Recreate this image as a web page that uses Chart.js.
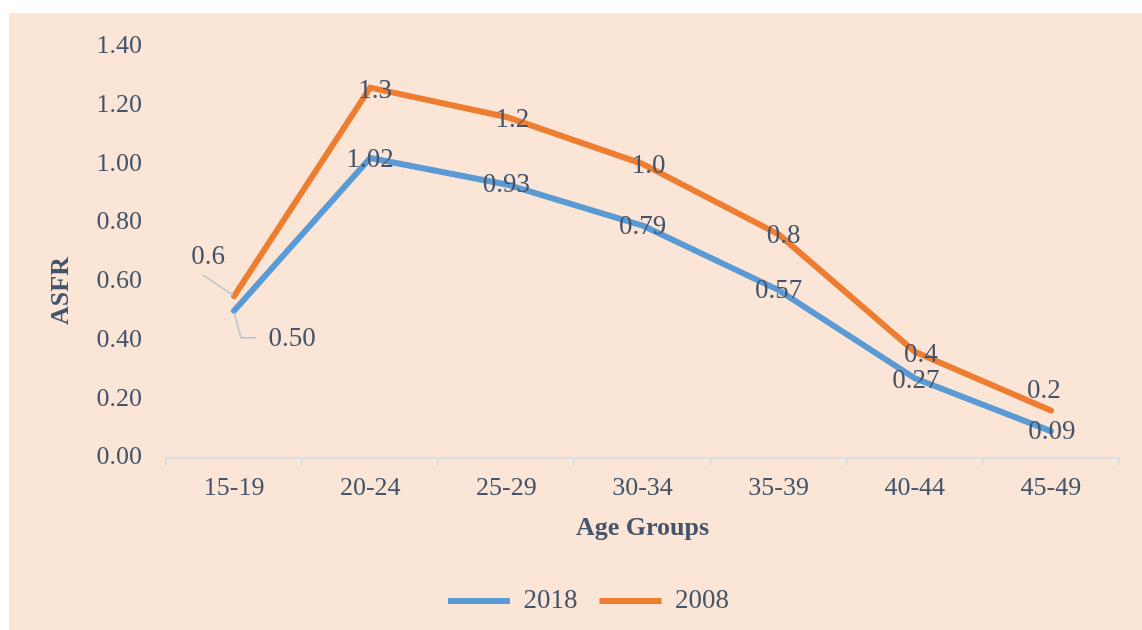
<!DOCTYPE html>
<html>
<head>
<meta charset="utf-8">
<script src="https://cdn.jsdelivr.net/npm/chart.js@4.4.1/dist/chart.umd.min.js"></script>
<style>
  html, body { margin: 0; padding: 0; background: #ffffff; }
  #panel { position: absolute; left: 9px; top: 13px; width: 1133px; height: 617px; background: #FBE5D6; }
  canvas { display: block; }
</style>
</head>
<body>
<div id="panel"><canvas id="grafico" width="1133" height="617"></canvas></div>
<script>
// Datos
const grupos = ['15-19', '20-24', '25-29', '30-34', '35-39', '40-44', '45-49'];
const valores2018 = [0.50, 1.02, 0.93, 0.79, 0.57, 0.27, 0.09];
const valores2008 = [0.55, 1.26, 1.16, 1.00, 0.76, 0.36, 0.16];
const marcasY = [0, 0.2, 0.4, 0.6, 0.8, 1.0, 1.2, 1.4];

const colorTexto = '#44546A';
const colorEje = '#D9DFE5';
const fuente = 'Liberation Serif';

// Desplazamiento de cada etiqueta respecto a su punto (px)
const desplaz2018 = [[58, 28], [0, 2], [0, 0], [0, 1], [0, 1], [1, 3], [1, 1]];
const desplaz2008 = [[-26, -39], [5, 3], [6, 3], [6, 2], [5, 2], [6, 3], [-7, -20]];

// Etiquetas de datos, líneas guía y título del eje Y
const etiquetasPlugin = {
  id: 'etiquetas',
  afterDatasetsDraw(chart) {
    const ctx = chart.ctx;
    const m2018 = chart.getDatasetMeta(0).data;
    const m2008 = chart.getDatasetMeta(1).data;

    // líneas guía del primer grupo
    ctx.save();
    ctx.strokeStyle = '#B7C4D1';
    ctx.lineWidth = 1.5;
    ctx.beginPath();
    ctx.moveTo(m2008[0].x - 1, m2008[0].y - 1);
    ctx.lineTo(m2008[0].x - 31, m2008[0].y - 21);
    ctx.moveTo(m2018[0].x, m2018[0].y + 2);
    ctx.lineTo(m2018[0].x + 7, m2018[0].y + 27);
    ctx.lineTo(m2018[0].x + 22, m2018[0].y + 27);
    ctx.stroke();
    ctx.restore();

    ctx.save();
    ctx.font = '27px "' + fuente + '"';
    ctx.fillStyle = colorTexto;
    ctx.textAlign = 'center';
    ctx.textBaseline = 'middle';
    m2018.forEach((p, i) => {
      ctx.fillText(valores2018[i].toFixed(2), p.x + desplaz2018[i][0], p.y + desplaz2018[i][1]);
    });
    m2008.forEach((p, i) => {
      ctx.fillText(valores2008[i].toFixed(1), p.x + desplaz2008[i][0], p.y + desplaz2008[i][1]);
    });
    ctx.restore();

    // título eje Y
    ctx.save();
    ctx.translate(52, 278);
    ctx.rotate(-Math.PI / 2);
    ctx.font = 'bold 26px "' + fuente + '"';
    ctx.fillStyle = colorTexto;
    ctx.textAlign = 'center';
    ctx.textBaseline = 'middle';
    ctx.fillText('ASFR', 0, 0);
    ctx.restore();
  }
};

const ctxGrafico = document.getElementById('grafico').getContext('2d');
new Chart(ctxGrafico, {
  type: 'line',
  data: {
    labels: grupos,
    datasets: [
      {
        label: '2018',
        data: valores2018,
        borderColor: '#5B9BD5',
        backgroundColor: '#5B9BD5',
        borderWidth: 6,
        borderCapStyle: 'round',
        borderJoinStyle: 'round',
        pointRadius: 0,
        tension: 0
      },
      {
        label: '2008',
        data: valores2008,
        borderColor: '#ED7D31',
        backgroundColor: '#ED7D31',
        borderWidth: 6,
        borderCapStyle: 'round',
        borderJoinStyle: 'round',
        pointRadius: 0,
        tension: 0
      }
    ]
  },
  options: {
    responsive: false,
    animation: false,
    layout: {
      padding: { top: 33.5, left: 49, right: 23, bottom: 5.5 }
    },
    plugins: {
      tooltip: { enabled: false },
      legend: {
        position: 'bottom',
        labels: {
          usePointStyle: true,
          pointStyle: 'line',
          pointStyleWidth: 62,
          padding: 22,
          color: colorTexto,
          font: { family: fuente, size: 27 }
        }
      }
    },
    scales: {
      x: {
        type: 'category',
        offset: true,
        afterFit: (scale) => { scale.height = 108; },
        grid: {
          display: true,
          offset: true,
          drawOnChartArea: false,
          drawTicks: true,
          tickLength: 8,
          color: colorEje,
          lineWidth: 2
        },
        border: { display: true, color: colorEje, width: 2 },
        ticks: {
          color: colorTexto,
          padding: 7,
          maxRotation: 0,
          font: { family: fuente, size: 26 }
        },
        title: {
          display: true,
          text: 'Age Groups',
          color: colorTexto,
          padding: { top: 0, bottom: 22 },
          font: { family: fuente, size: 26, weight: 'bold' }
        }
      },
      y: {
        min: 0,
        max: 1.4,
        afterFit: (scale) => { scale.width = 108; },
        afterBuildTicks: (scale) => { scale.ticks = marcasY.map(v => ({ value: v })); },
        grid: { display: false, drawTicks: true, tickLength: 24 },
        border: { display: false },
        ticks: {
          color: colorTexto,
          padding: 0,
          font: { family: fuente, size: 26 },
          callback: (v) => Number(v).toFixed(2)
        }
      }
    }
  },
  plugins: [etiquetasPlugin]
});
</script>
</body>
</html>
